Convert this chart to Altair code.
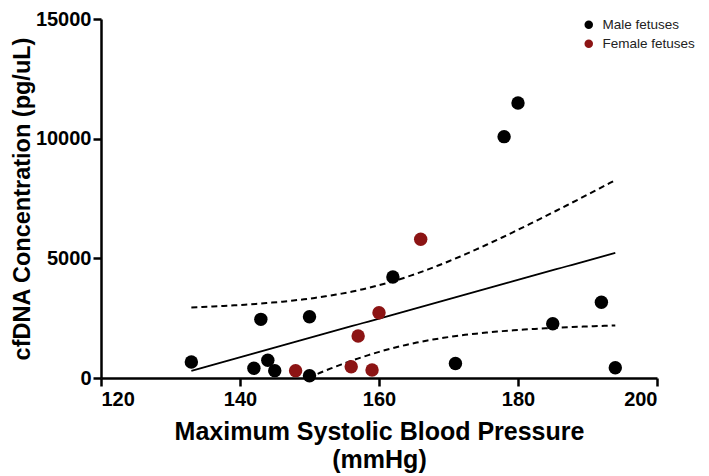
import altair as alt
import pandas as pd
import numpy as np

# ---- data ----
male_sbp = [133, 142, 143, 144, 145, 150, 150, 162, 171, 178, 180, 185, 192, 194]
male_cfdna = [670, 405, 2450, 740, 307, 2560, 93, 4220, 607, 10085, 11490, 2265, 3167, 430]
female_sbp = [148, 156, 157, 159, 160, 166]
female_cfdna = [307, 470, 1752, 336, 2723, 5797]
groups = ["Male fetuses", "Female fetuses"]
group_colors = ["#000000", "#8c1414"]
x_ticks = [120, 140, 160, 180, 200]
y_ticks = [0, 5000, 10000, 15000]

points = pd.DataFrame({
    "sbp": male_sbp + female_sbp,
    "cfdna": male_cfdna + female_cfdna,
    "group": [groups[0]] * len(male_sbp) + [groups[1]] * len(female_sbp),
})

# ---- linear regression with 95% confidence band (computed from the points) ----
x = np.array(points["sbp"], dtype=float)
y = np.array(points["cfdna"], dtype=float)
n = len(x)
slope, intercept = np.polyfit(x, y, 1)
resid = y - (slope * x + intercept)
s = np.sqrt(np.sum(resid ** 2) / (n - 2))
xbar = x.mean()
sxx = np.sum((x - xbar) ** 2)
t_crit = 2.100922  # t(0.975, df=18)
xf = np.linspace(x.min(), x.max(), 80)
yf = slope * xf + intercept
se = s * np.sqrt(1.0 / n + (xf - xbar) ** 2 / sxx)
fit = pd.DataFrame({"sbp": xf, "cfdna": yf})
band = pd.concat([
    pd.DataFrame({"sbp": xf, "cfdna": yf + t_crit * se, "which": "upper"}),
    pd.DataFrame({"sbp": xf, "cfdna": yf - t_crit * se, "which": "lower"}),
])

X = alt.X("sbp:Q",
          scale=alt.Scale(domain=[120, 200], nice=False, zero=False),
          axis=alt.Axis(values=x_ticks, format="d",
                        title=["Maximum Systolic Blood Pressure", "(mmHg)"],
                        titlePadding=10, titleLineHeight=28))
Y = alt.Y("cfdna:Q",
          scale=alt.Scale(domain=[0, 15000], nice=False),
          axis=alt.Axis(values=y_ticks, format="d", title="cfDNA Concentration (pg/uL)",
                        labelPadding=2, titlePadding=1, titleFontSize=23.5))

fit_line = alt.Chart(fit).mark_line(color="black", strokeWidth=1.8, clip=True).encode(x=X, y=Y)
band_lines = alt.Chart(band).mark_line(color="black", strokeWidth=2, strokeDash=[6, 4], clip=True).encode(
    x=X, y=Y, detail="which:N")
dots = alt.Chart(points).mark_circle(size=180, opacity=1).encode(
    x=X, y=Y,
    color=alt.Color("group:N",
                    scale=alt.Scale(domain=groups, range=group_colors),
                    legend=alt.Legend(title=None, orient="none", legendX=481, legendY=-1,
                                      symbolType="circle", symbolSize=72, symbolStrokeWidth=0,
                                      labelFont="Liberation Sans", labelFontSize=13.5,
                                      labelColor="#222222", labelOffset=7, rowPadding=4,
                                      padding=0)),
)

chart = (
    alt.layer(fit_line, band_lines, dots)
    .properties(width=556, height=359,
                autosize=alt.AutoSizeParams(type="none"),
                padding={"left": 93, "top": 11, "right": 43, "bottom": 98})
    .configure_view(stroke=None)
    .configure_axis(
        grid=False,
        labelFont="Liberation Sans", labelFontWeight="bold", labelFontSize=20, labelColor="black",
        labelPadding=3,
        titleFont="Liberation Sans", titleFontWeight="bold", titleFontSize=25, titleColor="black",
        domainColor="black", domainWidth=2.5, tickColor="black", tickWidth=2.5, tickSize=8,
    )
)

chart.save("out.html", embed_options={"renderer": "svg", "actions": False})
